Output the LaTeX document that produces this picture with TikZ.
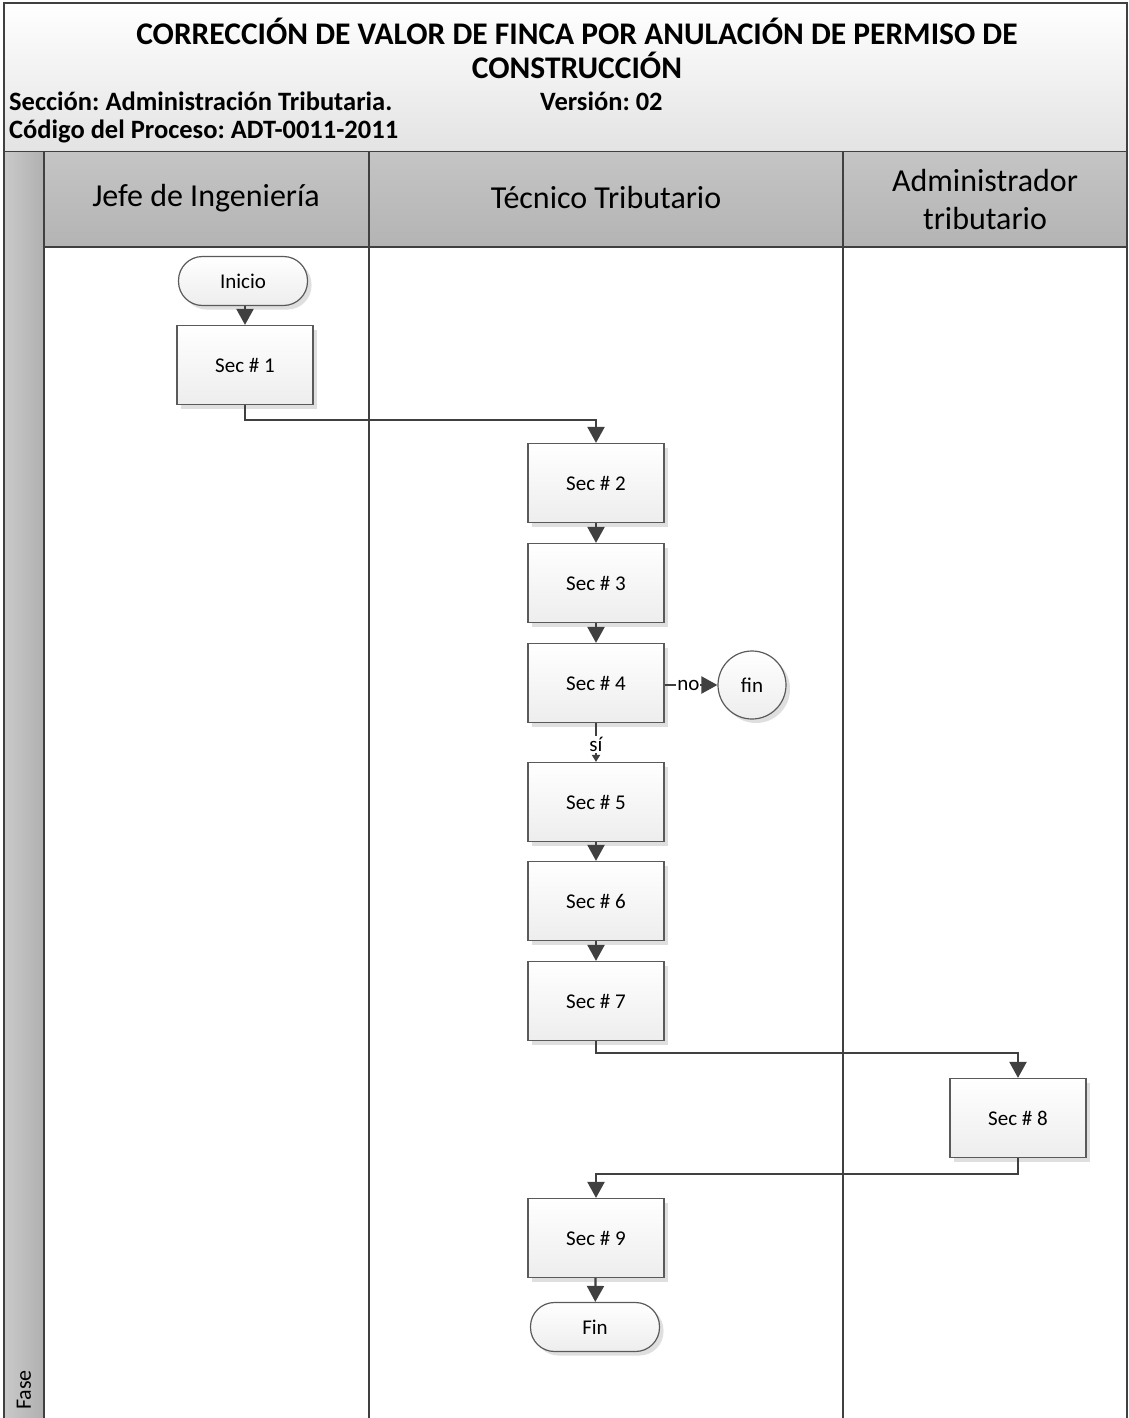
\documentclass[tikz,border=0pt]{standalone}
\usepackage{fontspec}
\setmainfont{Carlito}
\usetikzlibrary{arrows.meta,shadows,positioning}
\definecolor{linec}{HTML}{404040}
\definecolor{boxline}{HTML}{5A5A5A}
\tikzset{
  secbox/.style={draw=boxline, line width=1.2pt, minimum width=136pt, minimum height=79pt,
    top color=white, bottom color=gray!14, font=\fontsize{21}{25}\selectfont,
    drop shadow={shadow xshift=4pt, shadow yshift=-4pt, fill=gray!25, opacity=1}},
  termbox/.style={draw=boxline, line width=1.2pt, rounded corners=24pt, minimum width=129pt, minimum height=49pt,
    top color=white, bottom color=gray!14, font=\fontsize{21}{25}\selectfont,
    drop shadow={shadow xshift=4pt, shadow yshift=-4pt, fill=gray!25, opacity=1}},
  endcirc/.style={draw=boxline, line width=1.2pt, circle, minimum size=68pt, inner sep=0pt,
    top color=white, bottom color=gray!14, font=\fontsize{21}{25}\selectfont,
    drop shadow={shadow xshift=4pt, shadow yshift=-4pt, fill=gray!25, opacity=1}},
  flow/.style={draw=linec, line width=2.2pt, -{Triangle[width=17pt,length=16pt]}},
  smallflow/.style={draw=linec, line width=2.2pt, -{Triangle[width=8pt,length=7pt]}},
  lanehead/.style={font=\fontsize{32}{38}\selectfont, align=center},
  lbl/.style={fill=white, inner sep=1pt, font=\fontsize{21}{25}\selectfont},
  infotext/.style={font=\bfseries\fontsize{26.5}{30}\selectfont, anchor=west, inner sep=0pt},
  frame/.style={draw=linec, line width=1.5pt}
}
\begin{document}
\frenchspacing
\begin{tikzpicture}[x=1pt,y=-1pt]
\useasboundingbox (0,0) rectangle (1129,1418);
\fill[white] (0,0) rectangle (1129,1418);

% title block
\shade[top color=white, bottom color=gray!22] (4,3) rectangle (1127,152);
\draw[frame] (4,3) rectangle (1127,152);
\node[font=\bfseries\fontsize{31.5}{36}\selectfont] (t1) at (577,31) {CORRECCIÓN DE VALOR DE FINCA POR ANULACIÓN DE PERMISO DE};
\node[font=\bfseries\fontsize{31.5}{36}\selectfont] (t2) at (577,65) {CONSTRUCCIÓN};
\node[infotext] (sec) at (9,101) {Sección: Administración Tributaria.};
\node[infotext] (ver) at (540,101) {Versión: 02};
\node[infotext] (cod) at (9,131) {Código del Proceso: ADT-0011-2011};

% swimlane headers and phase column
\shade[top color=gray!46, bottom color=gray!59] (44,152) rectangle (1127,247);
\shade[left color=gray!42, right color=gray!62] (4,152) rectangle (44,1418);
\draw[frame] (4,152) -- (4,1418);
\draw[frame] (44,152) -- (44,1418);
\draw[frame] (369,152) -- (369,1418);
\draw[frame] (843,152) -- (843,1418);
\draw[frame] (1127,152) -- (1127,1418);
\draw[frame] (44,247) -- (1127,247);
\node[lanehead] (l1) at (206,198) {Jefe de Ingeniería};
\node[lanehead] (l2) at (606,198) {Técnico Tributario};
\node[lanehead] (l3) at (985,200) {Administrador\\tributario};
\node[rotate=90, font=\fontsize{22}{26}\selectfont, anchor=west, inner sep=0pt] (fase) at (24,1410) {Fase};

% flow nodes
\node[termbox] (inicio) at (243,281) {Inicio};
\node[secbox] (s1) at (245,365) {Sec \# 1};
\node[secbox] (s2) at (596,483) {Sec \# 2};
\node[secbox] (s3) at (596,583) {Sec \# 3};
\node[secbox] (s4) at (596,683) {Sec \# 4};
\node[endcirc] (fin1) at (752,685) {fin};
\node[secbox] (s5) at (596,802) {Sec \# 5};
\node[secbox] (s6) at (596,901) {Sec \# 6};
\node[secbox] (s7) at (596,1001) {Sec \# 7};
\node[secbox] (s8) at (1018,1118) {Sec \# 8};
\node[secbox] (s9) at (596,1238) {Sec \# 9};
\node[termbox] (fin2) at (595,1327) {Fin};

% connectors
\draw[flow] (inicio.south -| s1.north) -- (s1.north);
\draw[flow] (s1.south) -- ++(0,15) -| (s2.north);
\draw[flow] (s2) -- (s3);
\draw[flow] (s3) -- (s4);
\draw[flow] (s4.east |- fin1.west) -- node[lbl, pos=0.45] {no} (fin1.west);
\draw[smallflow] (s4) -- node[lbl, pos=0.55] {sí} (s5);
\draw[flow] (s5) -- (s6);
\draw[flow] (s6) -- (s7);
\draw[flow] (s7.south) -- ++(0,12) -| (s8.north);
\draw[flow] (s8.south) -- ++(0,16) -| (s9.north);
\draw[flow] (s9) -- (fin2);
\end{tikzpicture}
\end{document}
